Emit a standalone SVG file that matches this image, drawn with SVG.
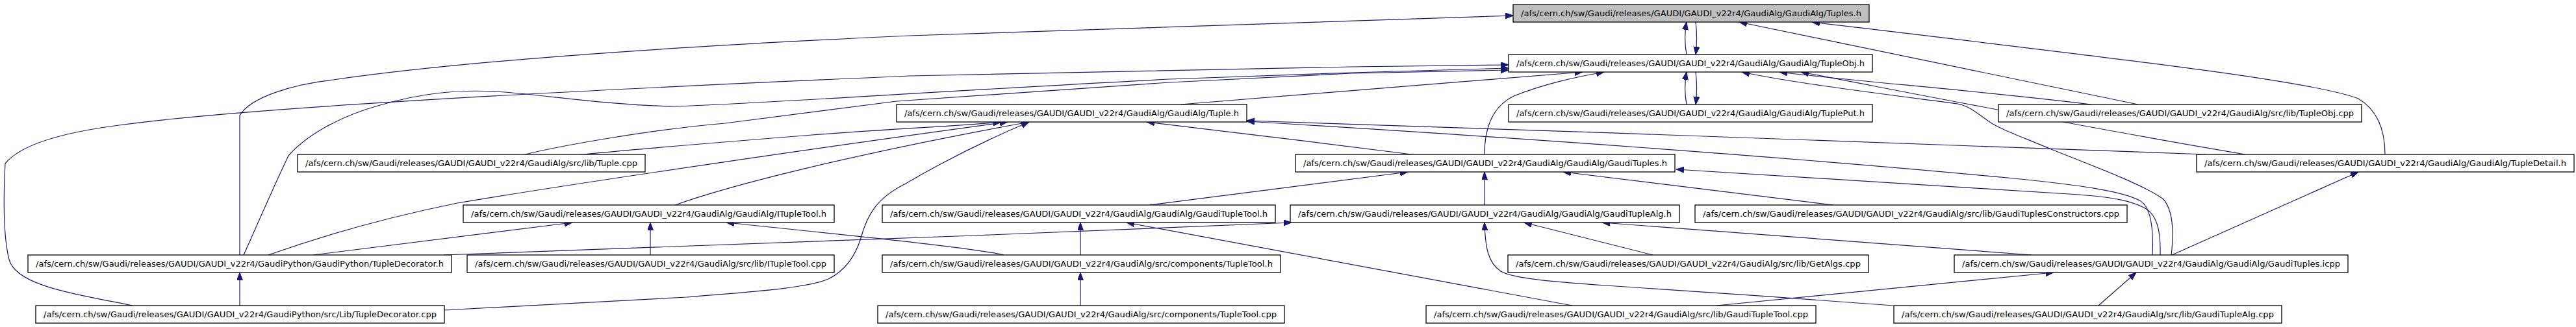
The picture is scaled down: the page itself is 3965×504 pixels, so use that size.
<svg xmlns="http://www.w3.org/2000/svg" width="3965" height="504" viewBox="0 0 3965 504">
<style>
.n rect{fill:#ffffff;stroke:#000000;stroke-width:1.3}
.n.root rect{fill:#bfbfbf}
.n text{font-family:"DejaVu Sans","Liberation Sans",sans-serif;font-size:13px;fill:#000000;text-anchor:middle}
.e path{fill:none;stroke:#191970;stroke-width:1.2;marker-end:url(#ah)}
</style>
<defs>
<marker id="ah" markerWidth="13" markerHeight="10" refX="12" refY="4.5" orient="auto" markerUnits="userSpaceOnUse"><path d="M0,0 L12,4.5 L0,9 z" fill="#191970" stroke="#191970" stroke-width="1"/></marker>
</defs>
<rect x="0" y="0" width="3965" height="504" fill="#ffffff"/>
<g id="connectors" class="e">
<path d="M2596,84 C2593,68 2593,50 2596,34"/>
<path d="M2610,34 C2612,50 2612,68 2610,84"/>
<path d="M2596,161 C2593,145 2593,127 2596,111"/>
<path d="M2610,111 C2612,127 2612,145 2610,161"/>
<path d="M369,393 L369,178 C385,150 450,130 513,123 C650,103 900,78 1400,55 L2329,24"/>
<path d="M3291,161 L2677,34"/>
<path d="M3671,238 C3671,200 3660,170 3630,152 C3560,125 3300,95 2789,34"/>
<path d="M204,471 C110,452 25,440 14,400 C4,360 6,290 8,252 C30,225 90,205 183,193 C420,160 1100,130 1400,117 L2080,103 L2322,100"/>
<path d="M375,393 C390,360 420,290 444,240 C470,210 520,180 585,162 C640,146 700,136 777,142 C850,148 940,162 1040,164 C1200,158 1400,143 1800,122 L2080,112 L2322,105"/>
<path d="M804,239 C860,225 1000,200 1116,190 L1380,156 L1800,127 L2080,113 L2322,108"/>
<path d="M1817,161 L2436,111"/>
<path d="M2285,238 C2285,200 2295,165 2330,148 C2380,128 2430,118 2469,111"/>
<path d="M3342,393 C3346,360 3345,325 3330,307 C3300,285 3220,255 3157,230 C3110,210 3080,200 3061,187 C3040,172 3030,163 3013,160 C2900,145 2760,128 2681,111"/>
<path d="M3219,161 C3050,140 2850,125 2739,111"/>
<path d="M3456,238 C3200,195 2950,145 2772,111"/>
<path d="M3395,238 C3000,222 2400,202 1919,186"/>
<path d="M3313,393 C3315,350 3310,320 3295,310 C3270,295 3200,285 3100,275 C2700,237 2300,210 1919,187"/>
<path d="M2173,238 C2050,222 1850,198 1765,188"/>
<path d="M888,239 C950,232 1100,220 1250,208 C1400,197 1480,194 1541,188"/>
<path d="M413,393 C520,355 620,330 704,313 C900,280 1300,222 1551,188"/>
<path d="M1039,316 C1120,287 1300,240 1584,188"/>
<path d="M684,478 C850,470 1000,462 1057,458 C1150,450 1240,445 1275,430 C1305,415 1318,390 1325,367 C1335,330 1350,305 1394,283 C1450,250 1520,215 1584,188"/>
<path d="M3325,393 C3326,355 3320,330 3300,320 C3280,310 3260,305 3200,300 L2580,261"/>
<path d="M3343,393 L3630,265"/>
<path d="M3127,393 L2466,343"/>
<path d="M2822,316 L2406,265"/>
<path d="M1769,316 L2167,265"/>
<path d="M2285,316 L2285,265"/>
<path d="M2544,393 L2346,343"/>
<path d="M2914,471 C2800,462 2550,445 2472,440 C2400,435 2330,430 2310,418 C2290,405 2286,380 2285,343"/>
<path d="M3230,471 L3288,420"/>
<path d="M2642,471 L3161,420"/>
<path d="M2420,471 L1734,343"/>
<path d="M1663,393 L1663,343"/>
<path d="M1545,393 C1500,382 1300,362 1118,343"/>
<path d="M1663,471 L1663,420"/>
<path d="M1001,393 L1001,343"/>
<path d="M482,393 L881,343"/>
<path d="M683,393 L1500,363 L1988,343"/>
<path d="M369,471 L369,420"/>
</g>
<g id="n0" class="n root"><rect x="2329" y="7" width="548" height="27"/><text x="2603" y="25" textLength="524" lengthAdjust="spacingAndGlyphs">/afs/cern.ch/sw/Gaudi/releases/GAUDI/GAUDI_v22r4/GaudiAlg/GaudiAlg/Tuples.h</text></g>
<g id="n1" class="n"><rect x="2322" y="84" width="560" height="27"/><text x="2602" y="102" textLength="536" lengthAdjust="spacingAndGlyphs">/afs/cern.ch/sw/Gaudi/releases/GAUDI/GAUDI_v22r4/GaudiAlg/GaudiAlg/TupleObj.h</text></g>
<g id="n2" class="n"><rect x="1380" y="161" width="539" height="27"/><text x="1649.5" y="179" textLength="515" lengthAdjust="spacingAndGlyphs">/afs/cern.ch/sw/Gaudi/releases/GAUDI/GAUDI_v22r4/GaudiAlg/GaudiAlg/Tuple.h</text></g>
<g id="n3" class="n"><rect x="2322" y="161" width="560" height="27"/><text x="2602" y="179" textLength="536" lengthAdjust="spacingAndGlyphs">/afs/cern.ch/sw/Gaudi/releases/GAUDI/GAUDI_v22r4/GaudiAlg/GaudiAlg/TuplePut.h</text></g>
<g id="n4" class="n"><rect x="3076" y="161" width="559" height="27"/><text x="3355.5" y="179" textLength="535" lengthAdjust="spacingAndGlyphs">/afs/cern.ch/sw/Gaudi/releases/GAUDI/GAUDI_v22r4/GaudiAlg/src/lib/TupleObj.cpp</text></g>
<g id="n5" class="n"><rect x="458" y="238" width="535" height="27"/><text x="725.5" y="256" textLength="511" lengthAdjust="spacingAndGlyphs">/afs/cern.ch/sw/Gaudi/releases/GAUDI/GAUDI_v22r4/GaudiAlg/src/lib/Tuple.cpp</text></g>
<g id="n6" class="n"><rect x="1994" y="238" width="584" height="27"/><text x="2286" y="256" textLength="560" lengthAdjust="spacingAndGlyphs">/afs/cern.ch/sw/Gaudi/releases/GAUDI/GAUDI_v22r4/GaudiAlg/GaudiAlg/GaudiTuples.h</text></g>
<g id="n7" class="n"><rect x="3381" y="238" width="581" height="27"/><text x="3671.5" y="256" textLength="557" lengthAdjust="spacingAndGlyphs">/afs/cern.ch/sw/Gaudi/releases/GAUDI/GAUDI_v22r4/GaudiAlg/GaudiAlg/TupleDetail.h</text></g>
<g id="n8" class="n"><rect x="713" y="316" width="571" height="27"/><text x="998.5" y="334" textLength="547" lengthAdjust="spacingAndGlyphs">/afs/cern.ch/sw/Gaudi/releases/GAUDI/GAUDI_v22r4/GaudiAlg/GaudiAlg/ITupleTool.h</text></g>
<g id="n9" class="n"><rect x="1358" y="316" width="605" height="27"/><text x="1660.5" y="334" textLength="581" lengthAdjust="spacingAndGlyphs">/afs/cern.ch/sw/Gaudi/releases/GAUDI/GAUDI_v22r4/GaudiAlg/GaudiAlg/GaudiTupleTool.h</text></g>
<g id="n10" class="n"><rect x="1986" y="316" width="599" height="27"/><text x="2285.5" y="334" textLength="575" lengthAdjust="spacingAndGlyphs">/afs/cern.ch/sw/Gaudi/releases/GAUDI/GAUDI_v22r4/GaudiAlg/GaudiAlg/GaudiTupleAlg.h</text></g>
<g id="n11" class="n"><rect x="2609" y="316" width="665" height="27"/><text x="2941.5" y="334" textLength="641" lengthAdjust="spacingAndGlyphs">/afs/cern.ch/sw/Gaudi/releases/GAUDI/GAUDI_v22r4/GaudiAlg/src/lib/GaudiTuplesConstructors.cpp</text></g>
<g id="n12" class="n"><rect x="43" y="393" width="652" height="27"/><text x="369" y="411" textLength="628" lengthAdjust="spacingAndGlyphs">/afs/cern.ch/sw/Gaudi/releases/GAUDI/GAUDI_v22r4/GaudiPython/GaudiPython/TupleDecorator.h</text></g>
<g id="n13" class="n"><rect x="719" y="393" width="565" height="27"/><text x="1001.5" y="411" textLength="541" lengthAdjust="spacingAndGlyphs">/afs/cern.ch/sw/Gaudi/releases/GAUDI/GAUDI_v22r4/GaudiAlg/src/lib/ITupleTool.cpp</text></g>
<g id="n14" class="n"><rect x="1358" y="393" width="613" height="27"/><text x="1664.5" y="411" textLength="589" lengthAdjust="spacingAndGlyphs">/afs/cern.ch/sw/Gaudi/releases/GAUDI/GAUDI_v22r4/GaudiAlg/src/components/TupleTool.h</text></g>
<g id="n15" class="n"><rect x="2321" y="393" width="555" height="27"/><text x="2598.5" y="411" textLength="531" lengthAdjust="spacingAndGlyphs">/afs/cern.ch/sw/Gaudi/releases/GAUDI/GAUDI_v22r4/GaudiAlg/src/lib/GetAlgs.cpp</text></g>
<g id="n16" class="n"><rect x="3008" y="393" width="606" height="27"/><text x="3311" y="411" textLength="582" lengthAdjust="spacingAndGlyphs">/afs/cern.ch/sw/Gaudi/releases/GAUDI/GAUDI_v22r4/GaudiAlg/GaudiAlg/GaudiTuples.icpp</text></g>
<g id="n17" class="n"><rect x="55" y="471" width="629" height="27"/><text x="369.5" y="489" textLength="605" lengthAdjust="spacingAndGlyphs">/afs/cern.ch/sw/Gaudi/releases/GAUDI/GAUDI_v22r4/GaudiPython/src/Lib/TupleDecorator.cpp</text></g>
<g id="n18" class="n"><rect x="1351" y="471" width="626" height="27"/><text x="1664" y="489" textLength="602" lengthAdjust="spacingAndGlyphs">/afs/cern.ch/sw/Gaudi/releases/GAUDI/GAUDI_v22r4/GaudiAlg/src/components/TupleTool.cpp</text></g>
<g id="n19" class="n"><rect x="2195" y="471" width="600" height="27"/><text x="2495" y="489" textLength="576" lengthAdjust="spacingAndGlyphs">/afs/cern.ch/sw/Gaudi/releases/GAUDI/GAUDI_v22r4/GaudiAlg/src/lib/GaudiTupleTool.cpp</text></g>
<g id="n20" class="n"><rect x="2915" y="471" width="597" height="27"/><text x="3213.5" y="489" textLength="573" lengthAdjust="spacingAndGlyphs">/afs/cern.ch/sw/Gaudi/releases/GAUDI/GAUDI_v22r4/GaudiAlg/src/lib/GaudiTupleAlg.cpp</text></g>
</svg>
